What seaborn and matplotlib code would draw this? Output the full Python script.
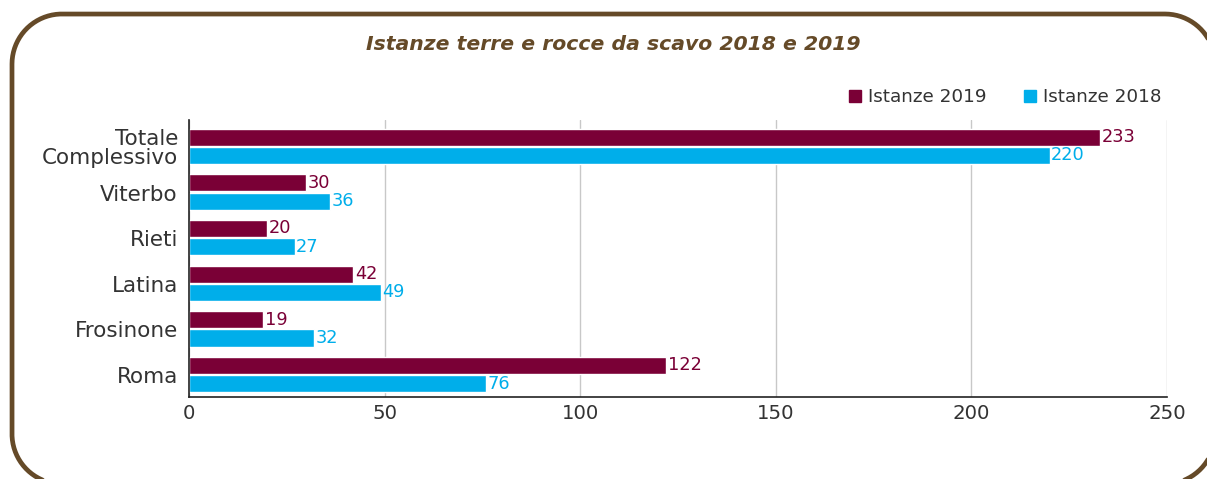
import matplotlib
matplotlib.use("Agg")
import matplotlib.pyplot as plt
from matplotlib.lines import Line2D
import numpy as np
import seaborn as sns
import pandas as pd

categories = ["Totale\nComplessivo", "Viterbo", "Rieti", "Latina", "Frosinone", "Roma"]
istanze_2019 = [233, 30, 20, 42, 19, 122]
istanze_2018 = [220, 36, 27, 49, 32, 76]
series = ["Istanze 2019", "Istanze 2018"]
x_ticks = [0, 50, 100, 150, 200, 250]

color_2019 = "#7A0036"
color_2018 = "#00AEEA"
title_color = "#654A28"
text_color = "#333333"

df = pd.DataFrame({
    "Provincia": categories * 2,
    "Valore": istanze_2019 + istanze_2018,
    "Serie": [series[0]] * len(categories) + [series[1]] * len(categories),
})

sns.set_theme(style="white")
plt.rcParams["font.family"] = ["DejaVu Sans"]

W, H = 1207, 479
fig = plt.figure(figsize=(W / 100, H / 100), dpi=100)


def rounded_rect(x0, y0, x1, y1, r, n=40):
    """Outline of a rounded rectangle in pixel coordinates (y up)."""
    pts = []
    corners = [(x1 - r, y1 - r, 0), (x0 + r, y1 - r, 90), (x0 + r, y0 + r, 180), (x1 - r, y0 + r, 270)]
    for cx, cy, a0 in corners:
        t = np.radians(np.linspace(a0, a0 + 90, n))
        pts.append(np.column_stack([cx + r * np.cos(t), cy + r * np.sin(t)]))
    pts = np.vstack(pts + [pts[0][:1]])
    return pts[:, 0], pts[:, 1]


# rounded frame drawn in a pixel-space background axes
bg = fig.add_axes([0, 0, 1, 1], zorder=-5)
bg.set_xlim(0, W)
bg.set_ylim(0, H)
bg.axis("off")
fx, fy = rounded_rect(12, -5, 1215, H - 14, 50)
bg.plot(fx, fy, color=title_color, linewidth=3.4, solid_capstyle="round")

ax = fig.add_axes([189 / W, 82 / H, (1167 - 189) / W, (397 - 120) / H])

sns.barplot(data=df, y="Provincia", x="Valore", hue="Serie", order=categories,
            hue_order=series, palette=[color_2019, color_2018], orient="h",
            width=0.8, ax=ax, legend=False, saturation=1)

for cont, col in zip(ax.containers, [color_2019, color_2018]):
    for bar in cont:
        bar.set_height(0.374)
    ax.bar_label(cont, labels=[f"{int(v)}" for v in cont.datavalues],
                 padding=1, color=col, fontsize=12.8)

ax.set_xlim(0, 250)
ax.set_ylim(5.48, -0.59)
ax.set_xticks(x_ticks)
ax.set_xticklabels([str(t) for t in x_ticks], fontsize=14.2, color=text_color)
ax.tick_params(axis="y", labelsize=15.5, labelcolor=text_color, length=0, pad=8)
ax.tick_params(axis="x", length=0, pad=5)
for lab in ax.get_yticklabels():
    lab.set_horizontalalignment("right")
    lab.set_multialignment("right")
    lab.set_linespacing(0.95)
ax.set_xlabel("")
ax.set_ylabel("")
ax.xaxis.grid(True, color="#C8C8C8", linewidth=1)
ax.set_axisbelow(True)
for side in ["top", "right"]:
    ax.spines[side].set_visible(False)
for side in ["left", "bottom"]:
    ax.spines[side].set_color("#222222")
    ax.spines[side].set_linewidth(1.2)

handles = [Line2D([], [], marker="s", linestyle="", markersize=9, color=c)
           for c in [color_2019, color_2018]]
fig.legend(handles, series, loc="center right", bbox_to_anchor=(1178 / W, 1 - 97 / H),
           ncol=2, frameon=False, fontsize=13.2, handletextpad=0.3, columnspacing=2.0,
           labelcolor=text_color, handlelength=0.8)

fig.text(613 / W, 1 - 45 / H, "Istanze terre e rocce da scavo 2018 e 2019",
         ha="center", va="center", fontsize=14.7, fontstyle="italic", fontweight="bold",
         color=title_color)

fig.savefig("out.png", dpi=100)
